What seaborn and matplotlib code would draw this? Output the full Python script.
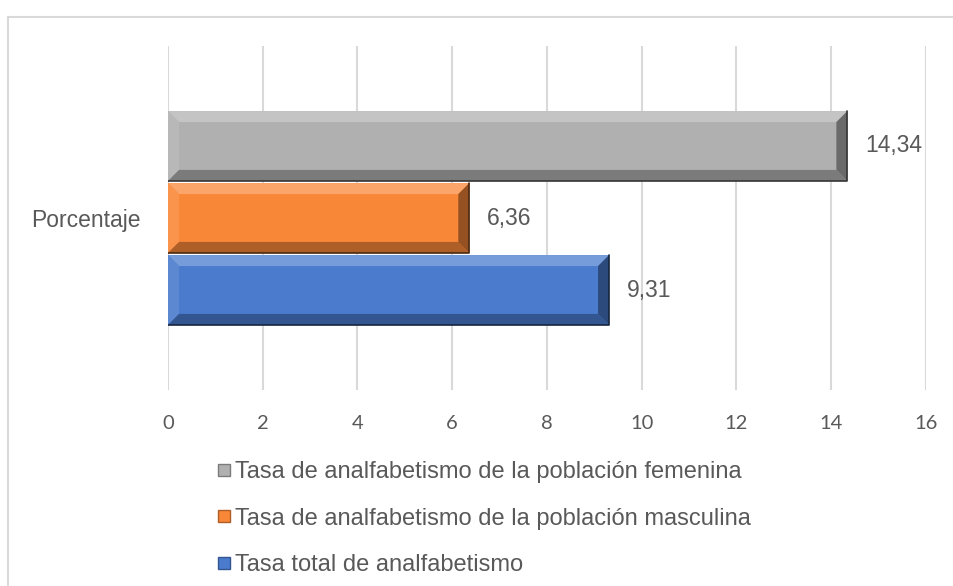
import numpy as np
import pandas as pd
import matplotlib
matplotlib.use('Agg')
import matplotlib.pyplot as plt
from matplotlib.lines import Line2D
from matplotlib.patches import Polygon
import matplotlib.colors as mcolors
import seaborn as sns

category = ['Porcentaje']
series = ['Tasa de analfabetismo de la población femenina',
          'Tasa de analfabetismo de la población masculina',
          'Tasa total de analfabetismo']
values = [14.34, 6.36, 9.31]
colors = ['#b0b0b0', '#f98738', '#4a7bcd']
x_ticks = [0, 2, 4, 6, 8, 10, 12, 14, 16]

TXT = '#595959'

sns.set_theme(style='white')
plt.rcParams['font.family'] = ['Liberation Sans', 'DejaVu Sans']

df = pd.DataFrame({'cat': category * len(series), 'serie': series, 'valor': values})

fig = plt.figure(figsize=(9.54, 5.86), dpi=100)
ax = fig.add_axes([168 / 954, 1 - 390 / 586, (926 - 168) / 954, (390 - 46) / 586])

sns.barplot(data=df, x='valor', y='cat', hue='serie', hue_order=series,
            palette=colors, orient='h', width=0.628, gap=0.03,
            legend=False, ax=ax, saturation=1, edgecolor='none', zorder=3)

ax.set_xlim(0, 16)
ax.set_ylim(0.5, -0.5)
ax.set_xticks(x_ticks)
ax.set_xticklabels([str(t) for t in x_ticks], family='Lato', fontsize=14.5, color=TXT)
ax.tick_params(axis='x', length=0, pad=18)
ax.set_yticks([0])
ax.set_yticklabels(category, fontsize=16.5, color=TXT)
ax.tick_params(axis='y', length=0, pad=20)
ax.set_xlabel('')
ax.set_ylabel('')
ax.grid(axis='x', color='#d9d9d9', linewidth=1.5, zorder=0)
for s in ax.spines.values():
    s.set_visible(False)

# bevel effect on the bars
fig.canvas.draw()
inv = ax.transData.inverted()
p0 = inv.transform((0, 0))
p1 = inv.transform((11, 11))
bx = abs(p1[0] - p0[0])
by = abs(p1[1] - p0[1])


def shade(c, f):
    c = np.array(mcolors.to_rgb(c))
    if f > 0:
        return tuple(c + (1 - c) * f)
    return tuple(c * (1 + f))


for patch, col in zip(ax.patches, colors):
    x0, y0 = patch.get_x(), patch.get_y()
    w, h = patch.get_width(), patch.get_height()
    x1, y1 = x0 + w, y0 + h
    # y axis inverted: y0 is top on screen
    top = [(x0, y0), (x1, y0), (x1 - bx, y0 + by), (x0 + bx, y0 + by)]
    bot = [(x0, y1), (x1, y1), (x1 - bx, y1 - by), (x0 + bx, y1 - by)]
    left = [(x0, y0), (x0 + bx, y0 + by), (x0 + bx, y1 - by), (x0, y1)]
    right = [(x1, y0), (x1 - bx, y0 + by), (x1 - bx, y1 - by), (x1, y1)]
    for pts, f in [(top, 0.25), (left, 0.1), (bot, -0.3), (right, -0.4)]:
        ax.add_patch(Polygon(pts, closed=True, facecolor=shade(col, f),
                             edgecolor='none', zorder=4))
    ax.plot([x1, x1, x0], [y0, y1, y1], color=shade(col, -0.7), lw=1.2, zorder=5)

labels = [f'{v:.2f}'.replace('.', ',') for v in values]
for cont, lab in zip(ax.containers, labels):
    ax.bar_label(cont, labels=[lab], padding=13, fontsize=16.5, color=TXT)

handles = [Line2D([], [], marker='s', linestyle='none', markersize=8,
                  markerfacecolor=c, markeredgecolor=shade(c, -0.3)) for c in colors]
fig.legend(handles, series, loc='upper left', bbox_to_anchor=(205 / 954, 1 - 449 / 586),
           frameon=False, fontsize=17, labelcolor=TXT, handlelength=0.6,
           handletextpad=0.15, labelspacing=1.05, borderpad=0)

# chart frame
fig.add_artist(Line2D([8 / 954, 8 / 954], [0, 1 - 17 / 586], color='#d9d9d9', lw=1.5))
fig.add_artist(Line2D([8 / 954, 1], [1 - 17 / 586, 1 - 17 / 586], color='#d9d9d9', lw=1.5))

fig.savefig('out.png', dpi=100)
